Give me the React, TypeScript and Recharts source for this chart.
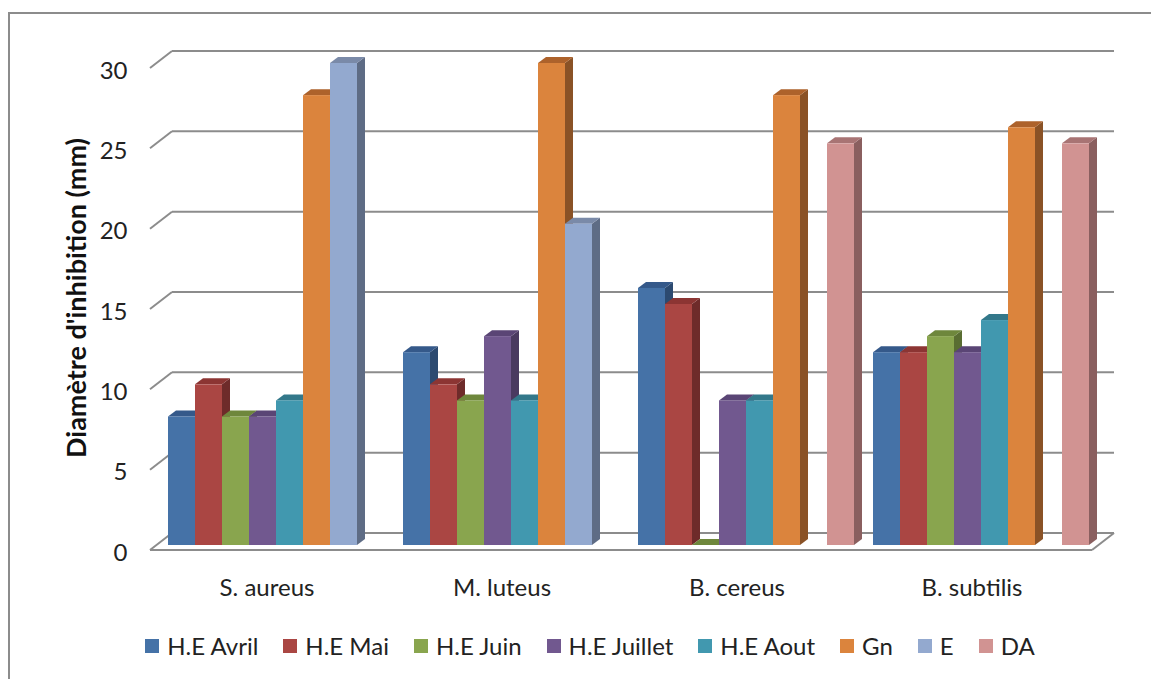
import { BarChart, Bar, XAxis, YAxis, CartesianGrid } from 'recharts'

const categories = ['S. aureus', 'M. luteus', 'B. cereus', 'B. subtilis']
const heAvril = [8, 12, 16, 12]
const heMai = [10, 10, 15, 12]
const heJuin = [8, 9, 0, 13]
const heJuillet = [8, 13, 9, 12]
const heAout = [9, 9, 9, 14]
const gn = [28, 30, 28, 26]
const eVals = [30, 20, null, null]
const da = [null, null, 25, 25]
const yTicks = [0, 5, 10, 15, 20, 25, 30]

const series = [
  { key: 'avril', name: 'H.E Avril', values: heAvril, front: '#4572A7', top: '#35598a', side: '#2c4a70' },
  { key: 'mai', name: 'H.E Mai', values: heMai, front: '#AA4643', top: '#8c3533', side: '#6e2b2a' },
  { key: 'juin', name: 'H.E Juin', values: heJuin, front: '#89A54E', top: '#6e873c', side: '#596d32' },
  { key: 'juillet', name: 'H.E Juillet', values: heJuillet, front: '#71588F', top: '#5a4575', side: '#4a3a60' },
  { key: 'aout', name: 'H.E Aout', values: heAout, front: '#4198AF', top: '#33788a', side: '#2a6a7a' },
  { key: 'gn', name: 'Gn', values: gn, front: '#DB843D', top: '#ad622b', side: '#8a5226' },
  { key: 'e', name: 'E', values: eVals, front: '#93A9CF', top: '#7a8aa8', side: '#5e6c85' },
  { key: 'da', name: 'DA', values: da, front: '#D19392', top: '#a87474', side: '#8a5f5f' },
]

const data = categories.map((c, i) => {
  const row: Record<string, string | number | null> = { name: c }
  series.forEach((s) => (row[s.key] = s.values[i]))
  return row
})

const DX = 8 // bar depth
const DY = 6
const FONT = 'Lato, "Open Sans", sans-serif'
const GRID = '#8c8c8c'

function Box3D(props: any) {
  const { x, y, width: w, height: h, payload, dataKey, s } = props
  if (payload == null || payload[dataKey] == null) return <g />
  return (
    <g>
      <polygon points={`${x + w},${y} ${x + w + DX},${y - DY} ${x + w + DX},${y + h - DY} ${x + w},${y + h}`} fill={s.side} />
      <polygon points={`${x},${y} ${x + DX},${y - DY} ${x + w + DX},${y - DY} ${x + w},${y}`} fill={s.top} />
      <rect x={x} y={y} width={w} height={h} fill={s.front} />
    </g>
  )
}

// horizontal grid lines sit on the back wall, with a diagonal on the left side wall
function GridLine(props: any) {
  const { x1, x2, y1, y, height } = props
  const back = y1 - 12
  const front = y1 + 5
  const isFloor = Math.abs(y1 - (y + height)) < 1
  return (
    <g stroke={GRID} strokeWidth={2} fill="none">
      <line x1={x1 + 14.5} y1={back} x2={x2 + 16.5} y2={back} />
      <line x1={x1 - 7.5} y1={front} x2={x1 + 14.5} y2={back} />
      {isFloor && (
        <>
          <line x1={x1 - 7.5} y1={front} x2={x2 - 5.5} y2={front} />
          <line x1={x2 - 5.5} y1={front} x2={x2 + 16.5} y2={back} />
        </>
      )}
    </g>
  )
}

function XTick({ x, y, payload }: any) {
  return (
    <text x={x - 8} y={y + 41} textAnchor="middle" dominantBaseline="central" fontFamily={FONT} fontSize={24} fill="#222">
      {payload.value}
    </text>
  )
}

function YTick({ x, y, payload }: any) {
  return (
    <text x={x} y={y + 6} textAnchor="end" dominantBaseline="central" fontFamily={FONT} fontSize={24} fill="#222">
      {payload.value}
    </text>
  )
}

function YLabel({ viewBox }: any) {
  const cx = 75
  const cy = viewBox.y + viewBox.height / 2 - 6
  return (
    <text
      x={cx}
      y={cy}
      transform={`rotate(-90 ${cx} ${cy})`}
      textAnchor="middle"
      dominantBaseline="central"
      fontFamily={FONT}
      fontWeight="bold"
      fontSize={27}
      fill="#111"
    >
      Diamètre d'inhibition (mm)
    </text>
  )
}

export default function App() {
  return (
    <div style={{ position: 'absolute', left: 0, top: 0, width: 1151, height: 679, overflow: 'hidden', background: '#fff' }}>
      <div style={{ position: 'absolute', left: 8, top: 12, width: 1300, height: 900, border: `2px solid ${GRID}` }} />
      <div style={{ position: 'absolute', left: 0, top: 0 }}>
        <BarChart
          width={1151}
          height={679}
          data={data}
          margin={{ top: 63, right: 53.5, bottom: 94, left: 57.5 }}
          barCategoryGap={10.5}
          barGap={0}
        >
          <CartesianGrid vertical={false} horizontal={(p: any) => <GridLine key={p.key ?? p.index} {...p} />} />
          <XAxis dataKey="name" height={40} axisLine={false} tickLine={false} tickSize={0} tickMargin={0} tick={<XTick />} />
          <YAxis
            width={100}
            domain={[0, 30]}
            ticks={yTicks}
            axisLine={false}
            tickLine={false}
            tickSize={0}
            tickMargin={30}
            tick={<YTick />}
            label={{ content: <YLabel /> }}
          />
          {series.map((s) => (
            <Bar
              key={s.key}
              dataKey={s.key}
              name={s.name}
              isAnimationActive={false}
              shape={(p: any) => <Box3D {...p} dataKey={s.key} s={s} />}
            />
          ))}
        </BarChart>
      </div>
      <div
        style={{
          position: 'absolute',
          left: 0,
          width: 1180,
          top: 646,
          transform: 'translateY(-50%)',
          display: 'flex',
          justifyContent: 'center',
          alignItems: 'center',
          fontFamily: FONT,
          fontSize: 24,
          color: '#222',
        }}
      >
        {series.map((s, i) => (
          <div key={s.key} style={{ display: 'flex', alignItems: 'center', marginLeft: i === 0 ? 0 : 25 }}>
            <span style={{ width: 14, height: 14, background: s.front, marginRight: 8, display: 'inline-block' }} />
            <span style={{ lineHeight: '28px' }}>{s.name}</span>
          </div>
        ))}
      </div>
    </div>
  )
}
